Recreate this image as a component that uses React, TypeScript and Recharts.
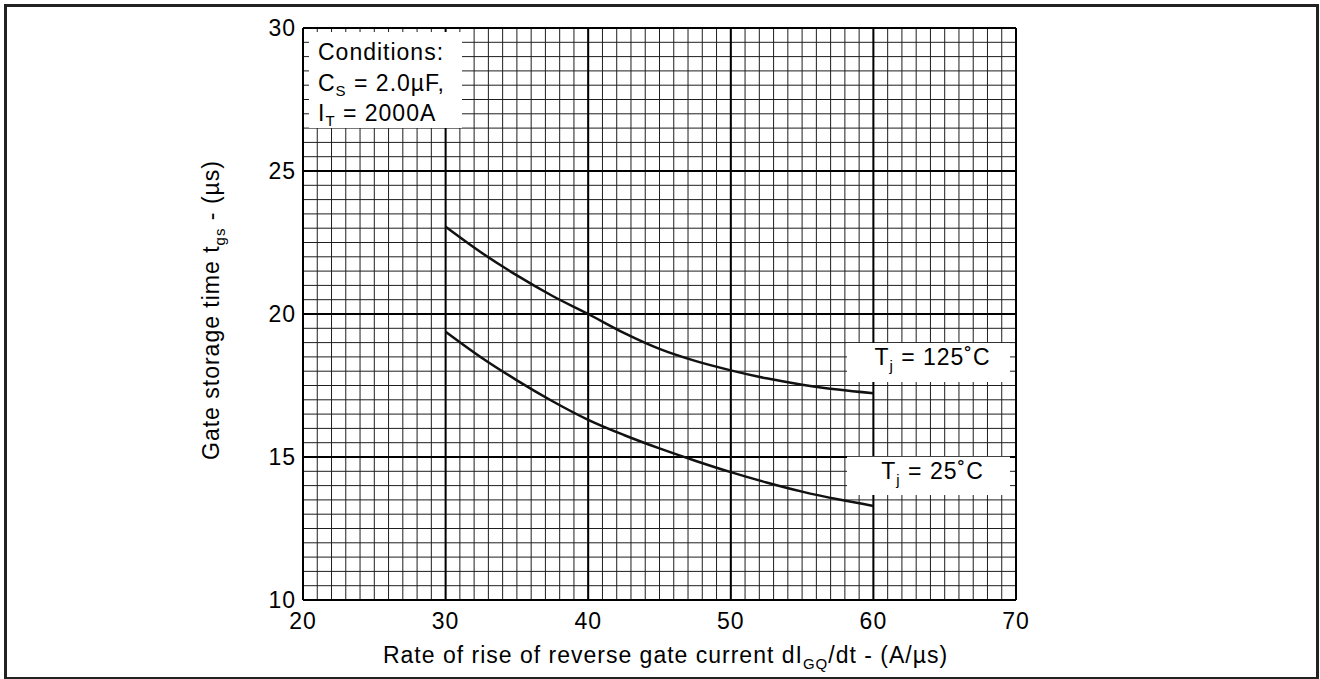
import React from "react";
import {
  CartesianGrid,
  Label,
  Line,
  LineChart,
  ReferenceArea,
  XAxis,
  YAxis,
} from "recharts";

// Gate storage time vs. rate of rise of reverse gate current.

const FONT = "'Liberation Sans', Arial, Helvetica, sans-serif";

const rates = [30, 32.5, 35, 37.5, 40, 42.5, 45, 47.5, 50, 52.5, 55, 57.5, 60];
const tgs125 = [23.05, 22.15, 21.35, 20.63, 20.0, 19.34, 18.78, 18.36, 18.03, 17.75, 17.53, 17.36, 17.23];
const tgs25 = [19.38, 18.48, 17.68, 16.95, 16.3, 15.77, 15.3, 14.87, 14.47, 14.11, 13.79, 13.52, 13.29];

const xTicks = [20, 30, 40, 50, 60, 70];
const yTicks = [10, 15, 20, 25, 30];
const xMinor = Array.from({ length: 51 }, (_, i) => 20 + i);
const yMinor = Array.from({ length: 41 }, (_, i) => 10 + i * 0.5);

// annotation boxes, in data units
const condBox = { x1: 20.42, x2: 31.15, y1: 26.5, y2: 29.86 };
const hotBox = { x1: 58.15, x2: 69.58, y1: 17.62, y2: 18.99 };
const coldBox = { x1: 58.15, x2: 69.58, y1: 13.67, y2: 15.01 };

const data = rates.map((r, i) => ({ rate: r, t125: tgs125[i], t25: tgs25[i] }));

const txt = { fontFamily: FONT, fontSize: 23, fill: "#000", letterSpacing: 1 };
const SUB = 15;

function ConditionsLabel({ viewBox }: any) {
  const { x, y } = viewBox;
  return (
    <text {...txt} x={x + 9}>
      <tspan x={x + 9} y={y + 28}>Conditions:</tspan>
      <tspan x={x + 9} y={y + 59}>C</tspan>
      <tspan fontSize={SUB} dy={5}>S</tspan>
      <tspan dy={-5}> = 2.0µF,</tspan>
      <tspan x={x + 9} y={y + 89}>I</tspan>
      <tspan fontSize={SUB} dy={5}>T</tspan>
      <tspan dy={-5}> = 2000A</tspan>
    </text>
  );
}

function TempLabel({ viewBox, temp }: any) {
  const { x, y, width } = viewBox;
  return (
    <text {...txt} x={x + width / 2 + 4} y={y + 22} textAnchor="middle">
      T<tspan fontSize={SUB} dy={6}>j</tspan>
      <tspan dy={-6}>{` = ${temp}˚C`}</tspan>
    </text>
  );
}

function XTitle({ viewBox }: any) {
  const { x, y, width } = viewBox;
  return (
    <text {...txt} x={x + width / 2 + 6} y={y + 63} textAnchor="middle">
      Rate of rise of reverse gate current dI
      <tspan fontSize={SUB} dy={6}>GQ</tspan>
      <tspan dy={-6}>/dt - (A/µs)</tspan>
    </text>
  );
}

function YTitle({ viewBox }: any) {
  const { y, height } = viewBox;
  const cx = 219;
  const cy = y + height / 2 - 4;
  return (
    <text {...txt} x={cx} y={cy} textAnchor="middle" transform={`rotate(-90, ${cx}, ${cy})`}>
      Gate storage time t
      <tspan fontSize={SUB} dy={6}>gs</tspan>
      <tspan dy={-6}> - (µs)</tspan>
    </text>
  );
}

export default function App() {
  return (
    <div style={{ position: "absolute", left: 0, top: 0, width: 1320, height: 679, background: "#fff", overflow: "hidden" }}>
      <div
        style={{
          position: "absolute",
          left: 4,
          top: 4,
          width: 1309,
          height: 670,
          border: "3px solid #222",
        }}
      />
      <LineChart
        width={1320}
        height={679}
        data={data}
        margin={{ top: 28, right: 304, bottom: 0, left: 0 }}
        style={{ position: "absolute", left: 0, top: 0 }}
      >
        <XAxis xAxisId="minor" dataKey="rate" type="number" domain={[20, 70]} ticks={xMinor} interval={0} allowDataOverflow hide />
        <YAxis yAxisId="minor" dataKey="t125" type="number" domain={[10, 30]} ticks={yMinor} interval={0} allowDataOverflow hide />
        <CartesianGrid xAxisId="minor" yAxisId="minor" stroke="#1e1e1e" strokeWidth={1} />
        <CartesianGrid stroke="#000" strokeWidth={2} />
        <XAxis
          dataKey="rate"
          type="number"
          domain={[20, 70]}
          ticks={xTicks}
          height={79}
          axisLine={false}
          tickLine={false}
          tickSize={6}
          tickMargin={7}
          tick={txt}
        >
          <Label content={<XTitle />} />
        </XAxis>
        <YAxis
          type="number"
          domain={[10, 30]}
          ticks={yTicks}
          width={303}
          axisLine={false}
          tickLine={false}
          tickSize={6}
          tickMargin={1}
          tick={txt}
        >
          <Label content={<YTitle />} />
        </YAxis>
        <ReferenceArea {...condBox} fill="#fff" fillOpacity={1} stroke="none" label={<ConditionsLabel />} />
        <ReferenceArea {...hotBox} fill="#fff" fillOpacity={1} stroke="none" label={<TempLabel temp={125} />} />
        <ReferenceArea {...coldBox} fill="#fff" fillOpacity={1} stroke="none" label={<TempLabel temp={25} />} />
        <Line dataKey="t125" type="monotone" stroke="#111" strokeWidth={2.5} dot={false} isAnimationActive={false} />
        <Line dataKey="t25" type="monotone" stroke="#111" strokeWidth={2.5} dot={false} isAnimationActive={false} />
      </LineChart>
    </div>
  );
}
